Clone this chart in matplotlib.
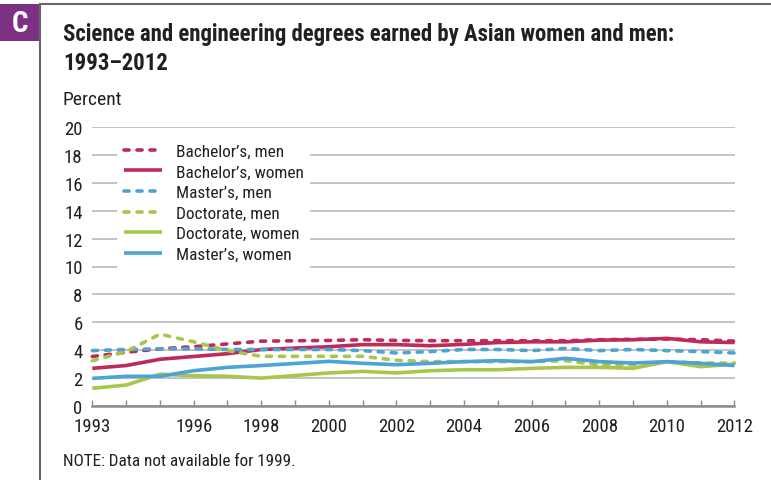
"""
Science and engineering degrees earned by Asian women and men, 1993-2012.
Line chart redrawn with matplotlib.
"""
import matplotlib
matplotlib.use("Agg")
import matplotlib.pyplot as plt
from matplotlib import font_manager
from matplotlib.font_manager import FontProperties
from matplotlib.patches import Rectangle
from matplotlib.lines import Line2D

# data (percent); no data for 1999
years = [1993, 1994, 1995, 1996, 1997, 1998, 2000, 2001, 2002, 2003,
         2004, 2005, 2006, 2007, 2008, 2009, 2010, 2011, 2012]
bachelors_men = [3.55, 3.85, 4.1, 4.25, 4.45, 4.65, 4.7, 4.75, 4.7, 4.68,
                 4.68, 4.68, 4.68, 4.68, 4.75, 4.78, 4.8, 4.75, 4.65]
bachelors_women = [2.7, 2.9, 3.35, 3.55, 3.75, 4.05, 4.25, 4.4, 4.4, 4.32,
                   4.42, 4.55, 4.6, 4.6, 4.72, 4.75, 4.85, 4.6, 4.55]
masters_men = [3.97, 4.05, 4.1, 4.1, 4.05, 4.05, 4.05, 3.97, 3.8, 3.9,
               4.05, 4.05, 3.97, 4.13, 3.97, 4.05, 3.97, 3.9, 3.8]
doctorate_men = [3.25, 3.9, 5.15, 4.6, 3.97, 3.56, 3.56, 3.56, 3.28, 3.18,
                 3.18, 3.18, 3.18, 3.25, 2.95, 2.95, 3.18, 3.08, 3.08]
doctorate_women = [1.27, 1.5, 2.28, 2.17, 2.13, 2.0, 2.37, 2.48, 2.37, 2.53,
                   2.6, 2.6, 2.7, 2.77, 2.77, 2.7, 3.18, 2.82, 3.0]
masters_women = [1.98, 2.13, 2.13, 2.53, 2.77, 2.9, 3.2, 3.06, 2.96, 3.06,
                 3.18, 3.25, 3.18, 3.42, 3.18, 3.08, 3.18, 3.06, 2.9]

label_years = [1993, 1996, 1998, 2000, 2002, 2004, 2006, 2008, 2010, 2012]
y_ticks = list(range(0, 21, 2))


def find_narrow(bold):
    """Look for a condensed / narrow sans font file, else fall back."""
    want = 700 if bold else 400
    order = ["Liberation Sans Narrow", "Roboto Condensed", "Open Sans Condensed",
             "Noto Sans", "DejaVu Sans", "Open Sans", "Roboto", "Noto Sans Display"]
    found = []
    for f in font_manager.fontManager.ttflist:
        narrowish = (f.stretch in ("condensed", "semi-condensed", 62.5, 75, 87.5)
                     or "Narrow" in f.name or "Condensed" in f.name
                     or "Condensed" in f.fname or "Narrow" in f.fname)
        if not narrowish or f.style != "normal":
            continue
        if "Extra" in f.fname or "Ultra" in f.fname or "Semi" in f.fname:
            continue
        w = f.weight if isinstance(f.weight, int) else (700 if f.weight == "bold" else 400)
        if w != want:
            continue
        rank = order.index(f.name) if f.name in order else len(order)
        found.append((rank, f.fname))
    if found:
        return FontProperties(fname=sorted(found)[0][1])
    return FontProperties(family="Liberation Sans", weight="bold" if bold else "normal")


REG = find_narrow(False)
BOLD = find_narrow(True)


def fp(base, size):
    p = base.copy()
    p.set_size(size)
    return p


CRIMSON = "#be2a5a"
BLUE = "#4ba3d6"
GREEN = "#a8c64e"
GRID = "#b3b3b3"
AXIS = "#8c8c8c"
TEXT = "#231f20"

fig = plt.figure(figsize=(7.71, 4.81), dpi=100)
W, H = 771, 481

# frame and panel letter
fig.add_artist(Line2D([40 / W, 770 / W], [1 - 5 / H, 1 - 5 / H],
                      color="#666666", lw=1.5, transform=fig.transFigure))
fig.add_artist(Line2D([40 / W, 40 / W], [1 - 5 / H, 0],
                      color="#666666", lw=1.5, transform=fig.transFigure))
fig.add_artist(Rectangle((0, 1 - 42 / H), 40 / W, 37 / H, facecolor="#7d3184",
                         edgecolor="none", transform=fig.transFigure))
fig.text(20 / W, 1 - 24 / H, "C", color="white", fontproperties=fp(BOLD, 21),
         ha="center", va="center")

fig.text(63 / W, 1 - 35 / H, "Science and engineering degrees earned by Asian women and men:",
         fontproperties=fp(BOLD, 16.4), color=TEXT, va="center")
fig.text(63 / W, 1 - 63 / H, "1993\u20132012",
         fontproperties=fp(BOLD, 16.4), color=TEXT, va="center")
fig.text(63 / W, 1 - 100 / H, "Percent", fontproperties=fp(REG, 14), color=TEXT, va="center")
fig.text(63 / W, 1 - 462 / H, "NOTE: Data not available for 1999.",
         fontproperties=fp(REG, 12.3), color=TEXT, va="center")

ax = fig.add_axes([92.3 / W, 1 - 407 / H, (734.5 - 92.3) / W, (407 - 128) / H])

dash = (1.4, 2.2)
series = [
    (bachelors_men, CRIMSON, "--", "Bachelor\u2019s, men"),
    (bachelors_women, CRIMSON, "-", "Bachelor\u2019s, women"),
    (masters_men, BLUE, "--", "Master\u2019s, men"),
    (doctorate_men, GREEN, "--", "Doctorate, men"),
    (doctorate_women, GREEN, "-", "Doctorate, women"),
    (masters_women, BLUE, "-", "Master\u2019s, women"),
]
for values, color, style, label in series:
    line, = ax.plot(years, values, color=color, lw=2.6, ls=style, label=label,
                    solid_capstyle="butt", dash_capstyle="round", clip_on=False)
    if style == "--":
        line.set_dashes(dash)

ax.set_xlim(1993, 2012)
ax.set_ylim(0, 20)
ax.set_yticks(y_ticks)
ax.set_xticks(range(1993, 2013))
ax.set_xticklabels([str(y) if y in label_years else "" for y in range(1993, 2013)])

ax.grid(axis="y", color=GRID, lw=1.1)
ax.set_axisbelow(True)
for side in ["top", "right", "left"]:
    ax.spines[side].set_visible(False)
ax.spines["bottom"].set_color(AXIS)
ax.spines["bottom"].set_linewidth(1.8)
ax.tick_params(axis="x", direction="in", length=4, width=1, color=AXIS,
               pad=8, labelcolor=TEXT)
ax.tick_params(axis="y", length=0, pad=7, labelcolor=TEXT)
for lab in ax.get_xticklabels() + ax.get_yticklabels():
    lab.set_fontproperties(fp(REG, 13.5))

leg = ax.legend(loc="upper left", bbox_to_anchor=((117 - 92.3) / 642, (407 - 138) / 279),
                frameon=True, fancybox=False, framealpha=1, facecolor="white",
                edgecolor="none", prop=fp(REG, 12.4), handlelength=2.2, handletextpad=0.8,
                labelspacing=0.32, borderpad=0.4, borderaxespad=0)
for text in leg.get_texts():
    text.set_color(TEXT)

fig.savefig("out.png", dpi=100)
